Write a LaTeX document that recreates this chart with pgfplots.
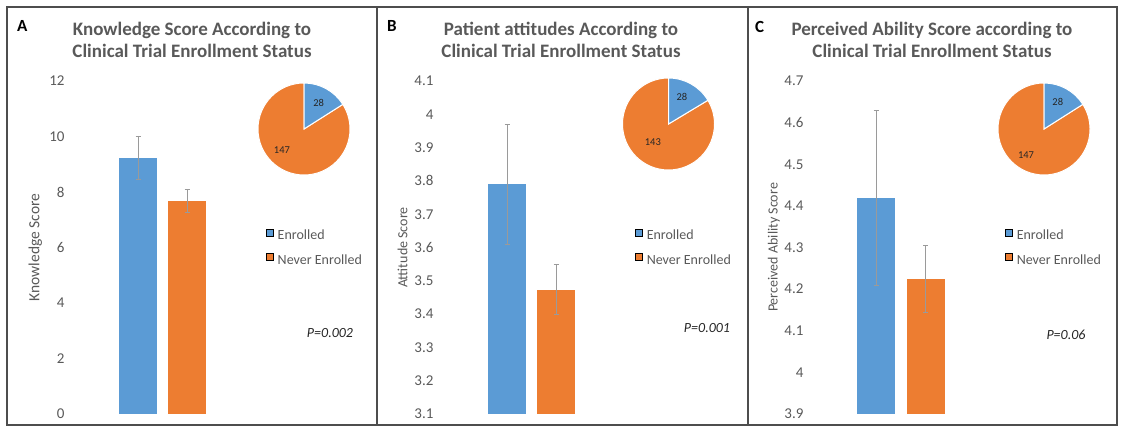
\documentclass[border=0pt]{standalone}
\usepackage{fontspec}
\setmainfont{Carlito}
\usepackage{pgfplots}
\pgfplotsset{compat=1.18}
\definecolor{cblue}{HTML}{5B9BD5}
\definecolor{corange}{HTML}{ED7D31}
\definecolor{tc}{HTML}{595959}
\definecolor{framec}{HTML}{4D4D4D}
\definecolor{errc}{HTML}{9A9A9A}
\definecolor{pc}{HTML}{262626}
\newcommand\fs[1]{\fontsize{#1}{#1}\selectfont}

\pgfplotsset{
  panel/.style={
    scale only axis, width=172pt, height=333pt,
    anchor=south west,
    xmin=0, xmax=172,
    axis line style={draw=none},
    xtick=\empty,
    ytick style={draw=none},
    yticklabel style={font=\fs{15}, text=tc},
    /pgf/number format/assume math mode=true,
    legend style={draw=none, fill=none, font=\fs{14}, text=tc,
      at={(axis description cs:1.152,0.557)}, anchor=north west,
      inner sep=0pt, row sep=9pt, column sep=3pt,
      nodes={inner sep=1pt, text height=10pt, text depth=3pt}},
    legend cell align=left,
    legend image code/.code={\fill[##1] (0pt,0.5pt) rectangle (7pt,7.5pt);},
  },
  bar/.style={ybar, bar width=38pt, bar shift=0pt, draw=none, forget plot,
    error bars/y dir=both, error bars/y explicit,
    error bars/error mark=|,
    error bars/error bar style={errc, line width=0.6pt},
    error bars/error mark options={errc, mark size=2.5pt, line width=0.8pt}},
  pie/.style={scale only axis, width=92pt, height=92pt,
    xmin=-1, xmax=1, ymin=-1, ymax=1, hide axis, clip=false, anchor=center},
}

\begin{document}
\begin{tikzpicture}[x=1pt,y=1pt]
\useasboundingbox (0,0) rectangle (1123,428);

% pie values
\def\pAe{28}\def\pAn{147}
\def\pBe{28}\def\pBn{143}
\def\pCe{28}\def\pCn{147}
\pgfmathsetmacro{\angA}{360*\pAe/(\pAe+\pAn)}
\pgfmathsetmacro{\angB}{360*\pBe/(\pBe+\pBn)}
\pgfmathsetmacro{\angC}{360*\pCe/(\pCe+\pCn)}

% frames
\draw[framec, line width=2pt] (7,3) rectangle (1117,421);
\draw[framec, line width=2pt] (377,3) -- (377,421);
\draw[framec, line width=2pt] (748,3) -- (748,421);

% ---------- Panel A ----------
\begin{axis}[panel, at={(68pt,14pt)}, ymin=0, ymax=12, ytick={0,2,4,6,8,10,12},
  ylabel={Knowledge Score},
  ylabel style={at={(axis description cs:-0.19,0.5)}, anchor=center, font=\fs{15.5}, text=tc}]
\addplot[fill=cblue, bar] coordinates {(70,9.24) +- (0,0.78)};
\addplot[fill=corange, bar] coordinates {(119,7.68) +- (0,0.41)};
\addlegendimage{fill=cblue}\addlegendentry{Enrolled}
\addlegendimage{fill=corange}\addlegendentry{Never Enrolled}
\end{axis}
\begin{axis}[pie, at={(304pt,299pt)}]
\fill[corange, draw=white, line width=1pt] (axis cs:0,0) -- (axis cs:0,1) arc[start angle=90, end angle={450-\angA}, radius=46pt] -- cycle;
\fill[cblue, draw=white, line width=1pt] (axis cs:0,0) -- (axis cs:0,1) arc[start angle=90, end angle={90-\angA}, radius=46pt] -- cycle;
\node[font=\fs{10.5}, text=pc] at (axis cs:0.32,0.565) {\pAe};
\node[font=\fs{10.5}, text=pc] at (axis cs:-0.48,-0.46) {\pAn};
\end{axis}
\node[font=\bfseries\fs{19}, text=tc, anchor=base] at (192,392) {Knowledge Score According to};
\node[font=\bfseries\fs{19}, text=tc, anchor=base] at (192,370) {Clinical Trial Enrollment Status};
\node[font=\bfseries\fs{17}, anchor=base west, inner sep=0pt] at (17,396) {A};
\node[font=\itshape\fs{14}, text=pc] at (330,95) {P=0.002};

% ---------- Panel B ----------
\begin{axis}[panel, at={(437pt,14pt)}, ymin=3.1, ymax=4.1,
  ytick={3.1,3.2,3.3,3.4,3.5,3.6,3.7,3.8,3.9,4,4.1},
  ylabel={Attitude Score},
  ylabel style={at={(axis description cs:-0.2,0.5)}, anchor=center, font=\fs{14}, text=tc}]
\addplot[fill=cblue, bar] coordinates {(70,3.79) +- (0,0.18)};
\addplot[fill=corange, bar] coordinates {(119,3.473) +- (0,0.075)};
\addlegendimage{fill=cblue}\addlegendentry{Enrolled}
\addlegendimage{fill=corange}\addlegendentry{Never Enrolled}
\end{axis}
\begin{axis}[pie, at={(668.5pt,304pt)}]
\fill[corange, draw=white, line width=1pt] (axis cs:0,0) -- (axis cs:0,1) arc[start angle=90, end angle={450-\angB}, radius=46pt] -- cycle;
\fill[cblue, draw=white, line width=1pt] (axis cs:0,0) -- (axis cs:0,1) arc[start angle=90, end angle={90-\angB}, radius=46pt] -- cycle;
\node[font=\fs{10.5}, text=pc] at (axis cs:0.29,0.59) {\pBe};
\node[font=\fs{10.5}, text=pc] at (axis cs:-0.34,-0.39) {\pBn};
\end{axis}
\node[font=\bfseries\fs{19}, text=tc, anchor=base] at (561,392) {Patient attitudes According to};
\node[font=\bfseries\fs{19}, text=tc, anchor=base] at (561,370) {Clinical Trial Enrollment Status};
\node[font=\bfseries\fs{17}, anchor=base west, inner sep=0pt] at (387,396) {B};
\node[font=\itshape\fs{14}, text=pc] at (707,100) {P=0.001};

% ---------- Panel C ----------
\begin{axis}[panel, at={(807pt,14pt)}, ymin=3.9, ymax=4.7,
  ytick={3.9,4,4.1,4.2,4.3,4.4,4.5,4.6,4.7},
  ylabel={Perceived Ability Score},
  ylabel style={at={(axis description cs:-0.193,0.5)}, anchor=center, font=\fs{14}, text=tc}]
\addplot[fill=cblue, bar] coordinates {(69,4.42) +- (0,0.21)};
\addplot[fill=corange, bar] coordinates {(118.5,4.225) +- (0,0.08)};
\addlegendimage{fill=cblue}\addlegendentry{Enrolled}
\addlegendimage{fill=corange}\addlegendentry{Never Enrolled}
\end{axis}
\begin{axis}[pie, at={(1044pt,299pt)}]
\fill[corange, draw=white, line width=1pt] (axis cs:0,0) -- (axis cs:0,1) arc[start angle=90, end angle={450-\angC}, radius=46pt] -- cycle;
\fill[cblue, draw=white, line width=1pt] (axis cs:0,0) -- (axis cs:0,1) arc[start angle=90, end angle={90-\angC}, radius=46pt] -- cycle;
\node[font=\fs{10.5}, text=pc] at (axis cs:0.30,0.59) {\pCe};
\node[font=\fs{10.5}, text=pc] at (axis cs:-0.39,-0.57) {\pCn};
\end{axis}
\node[font=\bfseries\fs{19}, text=tc, anchor=base] at (932,392) {Perceived Ability Score according to};
\node[font=\bfseries\fs{19}, text=tc, anchor=base] at (932,370) {Clinical Trial Enrollment Status};
\node[font=\bfseries\fs{17}, anchor=base west, inner sep=0pt] at (755,395) {C};
\node[font=\itshape\fs{14}, text=pc] at (1066,93) {P=0.06};
\end{tikzpicture}
\end{document}
